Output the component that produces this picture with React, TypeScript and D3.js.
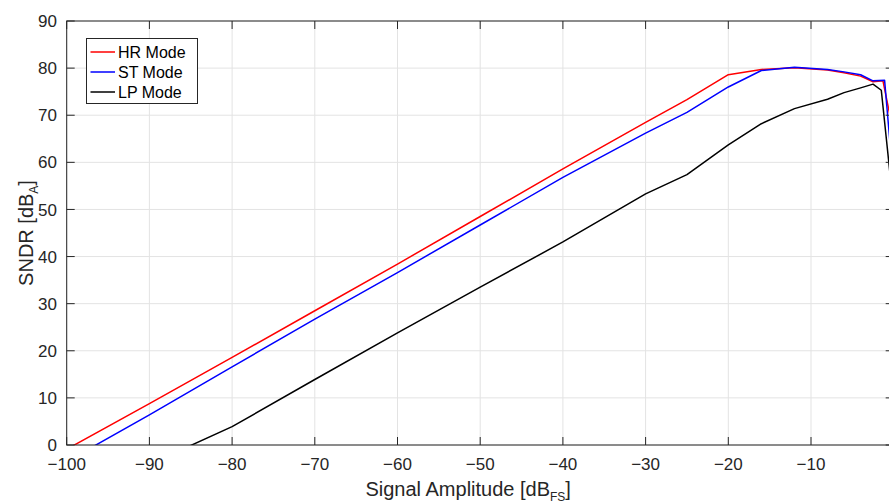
import React from "react";
import * as d3 from "d3";

const xTicks = [-100, -90, -80, -70, -60, -50, -40, -30, -20, -10, 0];
const yTicks = [0, 10, 20, 30, 40, 50, 60, 70, 80, 90];

const hrAmplitude = [-100, -90, -80, -70, -60, -50, -40, -30, -25, -20, -16, -12, -8, -6, -4, -2.5, -1.3, 0];
const hrSNDR = [-0.9, 8.8, 18.6, 28.5, 38.4, 48.5, 58.6, 68.5, 73.3, 78.6, 79.7, 80.1, 79.6, 79.0, 78.3, 77.1, 77.3, 66];

const stAmplitude = [-100, -90, -80, -70, -60, -50, -40, -30, -25, -20, -16, -12, -8, -6, -4, -2.5, -1.1, 0];
const stSNDR = [-3.5, 6.4, 16.6, 26.7, 36.6, 46.7, 56.8, 66.2, 70.6, 76.0, 79.5, 80.2, 79.7, 79.2, 78.6, 77.3, 77.4, 55];

const lpAmplitude = [-90, -80, -70, -60, -50, -40, -30, -25, -20, -16, -12, -8, -6, -4, -2.5, -1.5, 0];
const lpSNDR = [-4.1, 3.9, 13.9, 23.8, 33.5, 43.1, 53.3, 57.4, 63.7, 68.2, 71.4, 73.4, 74.8, 75.8, 76.6, 75.3, 50];

const seriesNames = ["HR Mode", "ST Mode", "LP Mode"];
const seriesColors = ["#ff0000", "#0000ff", "#000000"];

const W = 889;
const H = 503;
const left = 66.7;
const right = 893.7;
const top = 21;
const bottom = 445;
const font = "'Liberation Sans', 'DejaVu Sans', sans-serif";
const axisColor = "#262626";
const gridColor = "#e3e3e3";

export default function App() {
  const x = d3.scaleLinear().domain([-100, 0]).range([left, right]);
  const y = d3.scaleLinear().domain([0, 90]).range([bottom, top]);
  const line = d3
    .line<[number, number]>()
    .x((d) => x(d[0]))
    .y((d) => y(d[1]));
  const series = [
    { xs: hrAmplitude, ys: hrSNDR },
    { xs: stAmplitude, ys: stSNDR },
    { xs: lpAmplitude, ys: lpSNDR },
  ];
  const fmt = (v: number) => (v < 0 ? "\u2212" + Math.abs(v) : String(v));
  const tickLen = 8;

  return (
    <svg
      width={W}
      height={H}
      style={{ position: "absolute", left: 0, top: 0, background: "#fff" }}
      fontFamily={font}
    >
      <rect x={0} y={0} width={W} height={H} fill="#fff" />
      <defs>
        <clipPath id="plotClip">
          <rect x={left} y={top} width={right - left} height={bottom - top} />
        </clipPath>
      </defs>
      {/* grid */}
      {xTicks.map((t) => (
        <line key={"gx" + t} x1={x(t)} x2={x(t)} y1={top} y2={bottom} stroke={gridColor} strokeWidth={1} />
      ))}
      {yTicks.map((t) => (
        <line key={"gy" + t} x1={left} x2={right} y1={y(t)} y2={y(t)} stroke={gridColor} strokeWidth={1} />
      ))}
      {/* lines */}
      <g clipPath="url(#plotClip)">
        {series.map((s, i) => (
          <path
            key={i}
            d={line(s.xs.map((v, j) => [v, s.ys[j]] as [number, number])) || ""}
            fill="none"
            stroke={seriesColors[i]}
            strokeWidth={1.5}
            strokeLinejoin="round"
          />
        ))}
      </g>
      {/* axes box */}
      <rect x={left} y={top} width={right - left} height={bottom - top} fill="none" stroke={axisColor} strokeWidth={1} />
      {xTicks.map((t) => (
        <g key={"tx" + t}>
          <line x1={x(t)} x2={x(t)} y1={bottom} y2={bottom - tickLen} stroke={axisColor} />
          <line x1={x(t)} x2={x(t)} y1={top} y2={top + tickLen} stroke={axisColor} />
          <text x={x(t)} y={470} textAnchor="middle" fontSize={17} fill="#262626">
            {fmt(t)}
          </text>
        </g>
      ))}
      {yTicks.map((t) => (
        <g key={"ty" + t}>
          <line x1={left} x2={left + tickLen} y1={y(t)} y2={y(t)} stroke={axisColor} />
          <line x1={right} x2={right - tickLen} y1={y(t)} y2={y(t)} stroke={axisColor} />
          <text x={57} y={y(t)} dy="0.36em" textAnchor="end" fontSize={17} fill="#262626">
            {fmt(t)}
          </text>
        </g>
      ))}
      {/* axis titles */}
      <text x={(left + right) / 2 - 12} y={496} textAnchor="middle" fontSize={20} fill="#262626">
        Signal Amplitude [dB
        <tspan fontSize={12} dy={5}>FS</tspan>
        <tspan dy={-5}>]</tspan>
      </text>
      <text
        transform={`translate(33, ${(top + bottom) / 2}) rotate(-90)`}
        textAnchor="middle"
        fontSize={20}
        fill="#262626"
      >
        SNDR [dB
        <tspan fontSize={12} dy={5}>A</tspan>
        <tspan dy={-5}>]</tspan>
      </text>
      {/* legend */}
      <rect x={86.5} y={38.5} width={111} height={65} fill="#fff" stroke={axisColor} strokeWidth={1} />
      {seriesNames.map((n, i) => (
        <g key={n}>
          <line x1={90.5} x2={115} y1={52 + i * 20} y2={52 + i * 20} stroke={seriesColors[i]} strokeWidth={1.5} />
          <text x={118} y={52 + i * 20} dy="0.36em" fontSize={16} fill="#000">
            {n}
          </text>
        </g>
      ))}
    </svg>
  );
}
